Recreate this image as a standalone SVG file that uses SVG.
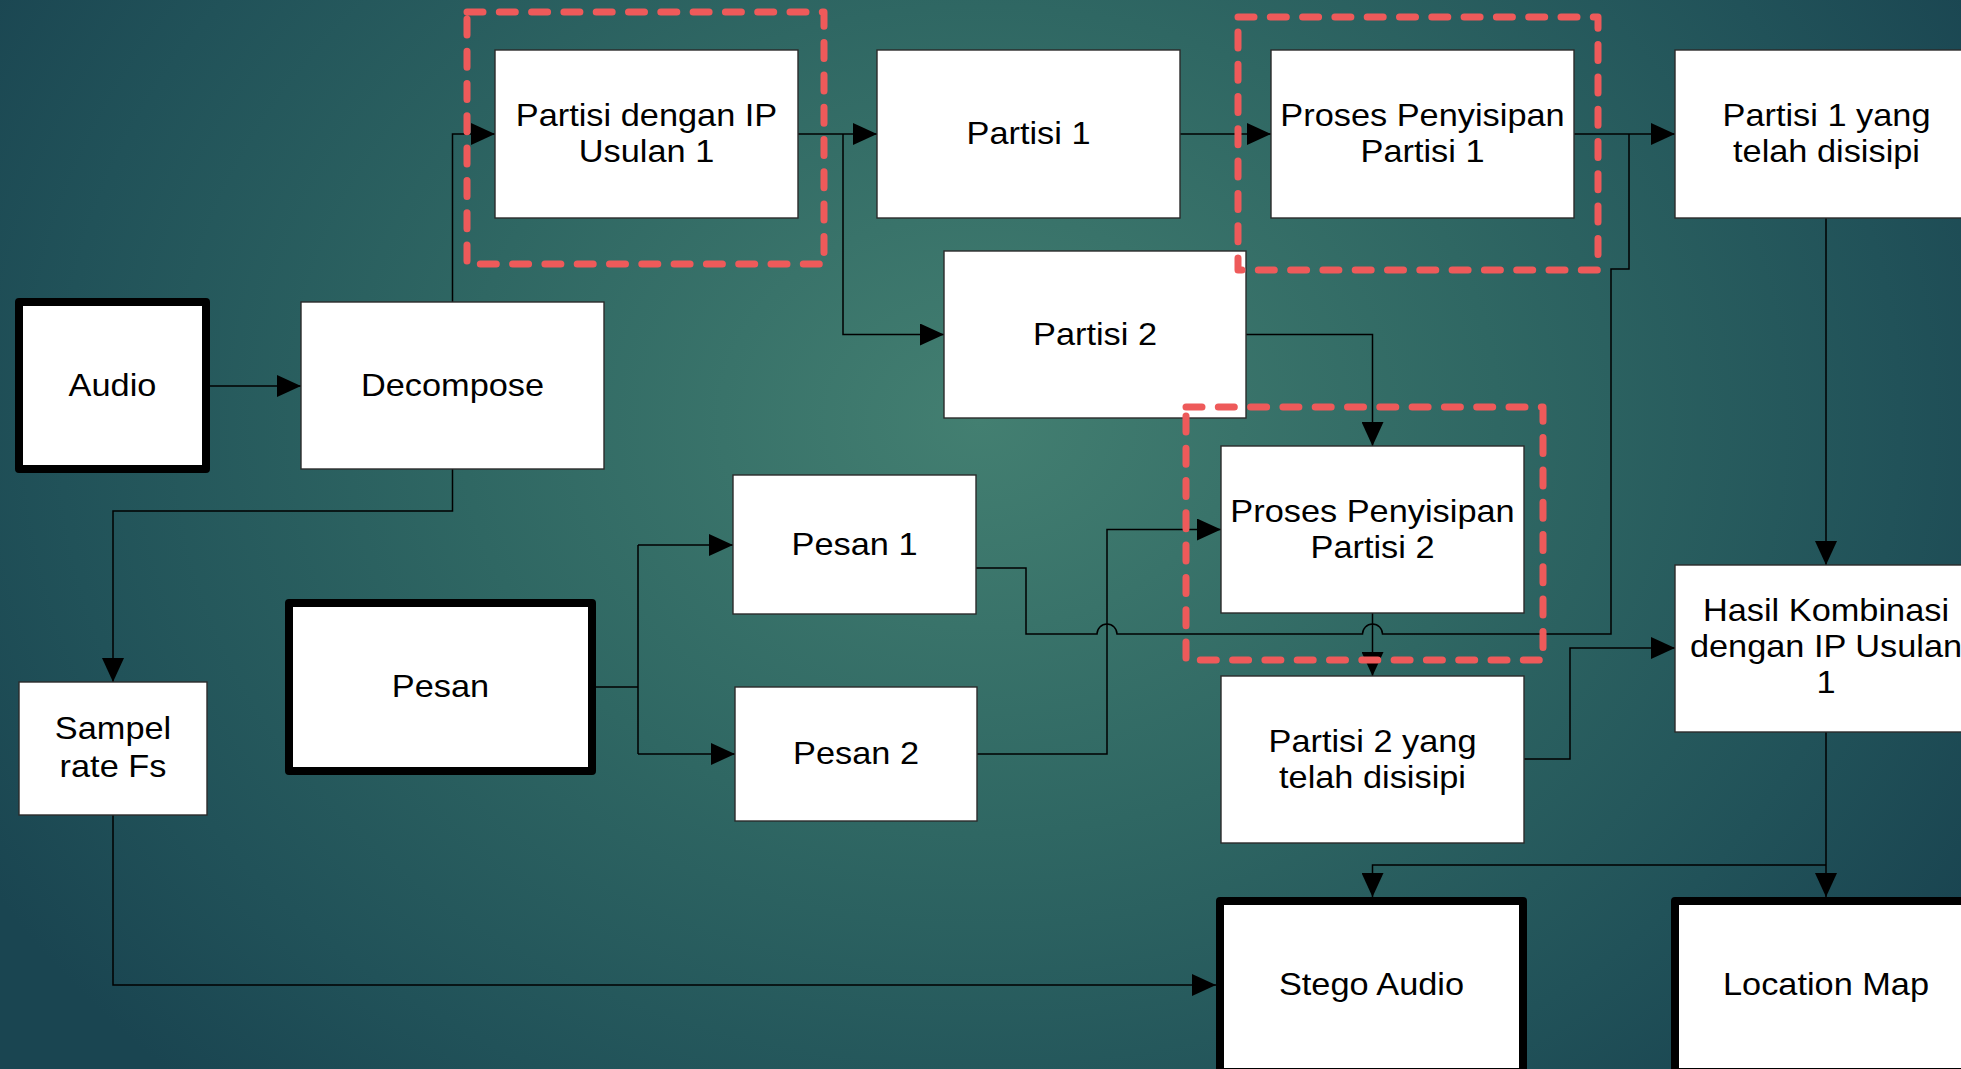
<svg xmlns="http://www.w3.org/2000/svg" width="1961" height="1069" viewBox="0 0 1961 1069">
<defs>
<radialGradient id="bg" gradientUnits="userSpaceOnUse" cx="980" cy="420" r="1150" gradientTransform="translate(980 420) scale(1 0.8) translate(-980 -420)">
<stop offset="0" stop-color="#437F71"/>
<stop offset="0.45" stop-color="#2F6763"/>
<stop offset="0.8" stop-color="#215259"/>
<stop offset="1" stop-color="#1A4551"/>
</radialGradient>
<marker id="arr" markerUnits="userSpaceOnUse" markerWidth="24" markerHeight="22" refX="24" refY="11" orient="auto">
<path d="M0,0 L24,11 L0,22 z" fill="#000"/>
</marker>
<style>
.box{fill:#fff;stroke:#2b2b2b;stroke-width:1.4}
.thick{fill:#fff;stroke:#000;stroke-width:8;stroke-linejoin:round}
.t{font-family:"Liberation Sans",Arial,sans-serif;font-size:31.5px;fill:#000;text-anchor:middle}
.c{fill:none;stroke:#000;stroke-width:1.5}
.a{marker-end:url(#arr)}
.dash{fill:none;stroke:#EE5A5A;stroke-width:7;stroke-dasharray:16 16.3;stroke-linecap:round;stroke-linejoin:round}
</style>
</defs>
<rect x="0" y="0" width="1961" height="1069" fill="url(#bg)"/>

<g id="connectors">
<path class="c a" d="M210,386 H301"/>
<path class="c a" d="M452.5,302 V134 H495"/>
<path class="c a" d="M798,134 H877"/>
<path class="c a" d="M843,134 V334.5 H944"/>
<path class="c a" d="M1180,134 H1271"/>
<path class="c a" d="M1574,134 H1675"/>
<path class="c a" d="M1246,334.5 H1372.5 V446"/>
<path class="c a" d="M452.5,469 V511 H113 V682"/>
<path class="c a" d="M113,815 V985 H1216"/>
<path class="c" d="M596,687 H638 M638,545 V754"/>
<path class="c a" d="M638,545 H733"/>
<path class="c a" d="M638,754 H735"/>
<path class="c" d="M976,568 H1026 V634 H1097 a10,10 0 0 1 20,0 H1362.5 a10,10 0 0 1 20,0 H1611 V269 H1629 V134"/>
<path class="c a" d="M977,754 H1107 V529.5 H1221"/>
<path class="c a" d="M1372.5,613 V676"/>
<path class="c a" d="M1524,759 H1570 V648 H1675"/>
<path class="c a" d="M1826,218 V565"/>
<path class="c a" d="M1826,732 V897"/>
<path class="c a" d="M1826,865 H1372.5 V897"/>
</g>

<g id="node-audio">
<rect class="thick" x="19" y="302" width="187" height="167"/>
<text class="t" transform="translate(112.5,395.5) scale(1.09,1)">Audio</text>
</g>
<g id="node-decompose">
<rect class="box" x="301" y="302" width="303" height="167"/>
<text class="t" transform="translate(452.5,395.5) scale(1.09,1)">Decompose</text>
</g>
<g id="node-partisi-ip">
<rect class="box" x="495" y="50" width="303" height="168"/>
<text class="t" transform="translate(646.5,126) scale(1.09,1)"><tspan x="0" y="0">Partisi dengan IP</tspan><tspan x="0" y="36.5">Usulan 1</tspan></text>
</g>
<g id="node-partisi1">
<rect class="box" x="877" y="50" width="303" height="168"/>
<text class="t" transform="translate(1028.5,144) scale(1.09,1)">Partisi 1</text>
</g>
<g id="node-proses1">
<rect class="box" x="1271" y="50" width="303" height="168"/>
<text class="t" transform="translate(1422.5,126) scale(1.09,1)"><tspan x="0" y="0">Proses Penyisipan</tspan><tspan x="0" y="36.5">Partisi 1</tspan></text>
</g>
<g id="node-partisi1-disisipi">
<rect class="box" x="1675" y="50" width="303" height="168"/>
<text class="t" transform="translate(1826.5,126) scale(1.09,1)"><tspan x="0" y="0">Partisi 1 yang</tspan><tspan x="0" y="36.5">telah disisipi</tspan></text>
</g>
<g id="node-partisi2">
<rect class="box" x="944" y="251" width="302" height="167"/>
<text class="t" transform="translate(1095,344.5) scale(1.09,1)">Partisi 2</text>
</g>
<g id="node-proses2">
<rect class="box" x="1221" y="446" width="303" height="167"/>
<text class="t" transform="translate(1372.5,521.5) scale(1.09,1)"><tspan x="0" y="0">Proses Penyisipan</tspan><tspan x="0" y="36.5">Partisi 2</tspan></text>
</g>
<g id="node-partisi2-disisipi">
<rect class="box" x="1221" y="676" width="303" height="167"/>
<text class="t" transform="translate(1372.5,751.5) scale(1.09,1)"><tspan x="0" y="0">Partisi 2 yang</tspan><tspan x="0" y="36.5">telah disisipi</tspan></text>
</g>
<g id="node-hasil">
<rect class="box" x="1675" y="565" width="303" height="167"/>
<text class="t" transform="translate(1826,620.5) scale(1.09,1)"><tspan x="0" y="0">Hasil Kombinasi</tspan><tspan x="0" y="36.5">dengan IP Usulan</tspan><tspan x="0" y="73">1</tspan></text>
</g>
<g id="node-sampel">
<rect class="box" x="19" y="682" width="188" height="133"/>
<text class="t" transform="translate(113,739) scale(1.09,1)"><tspan x="0" y="0">Sampel</tspan><tspan x="0" y="38">rate Fs</tspan></text>
</g>
<g id="node-pesan">
<rect class="thick" x="289" y="603" width="303" height="168"/>
<text class="t" transform="translate(440.5,697) scale(1.09,1)">Pesan</text>
</g>
<g id="node-pesan1">
<rect class="box" x="733" y="475" width="243" height="139"/>
<text class="t" transform="translate(854.5,554.5) scale(1.09,1)">Pesan 1</text>
</g>
<g id="node-pesan2">
<rect class="box" x="735" y="687" width="242" height="134"/>
<text class="t" transform="translate(856,764) scale(1.09,1)">Pesan 2</text>
</g>
<g id="node-stego">
<rect class="thick" x="1220" y="901" width="303" height="171"/>
<text class="t" transform="translate(1371.5,995) scale(1.09,1)">Stego Audio</text>
</g>
<g id="node-location">
<rect class="thick" x="1675" y="901" width="303" height="171"/>
<text class="t" transform="translate(1826,995) scale(1.09,1)">Location Map</text>
</g>

<g id="highlights">
<rect class="dash" x="467" y="12" width="357" height="252"/>
<rect class="dash" x="1238" y="17" width="360" height="253"/>
<rect class="dash" x="1186" y="407" width="357" height="253"/>
</g>
</svg>
